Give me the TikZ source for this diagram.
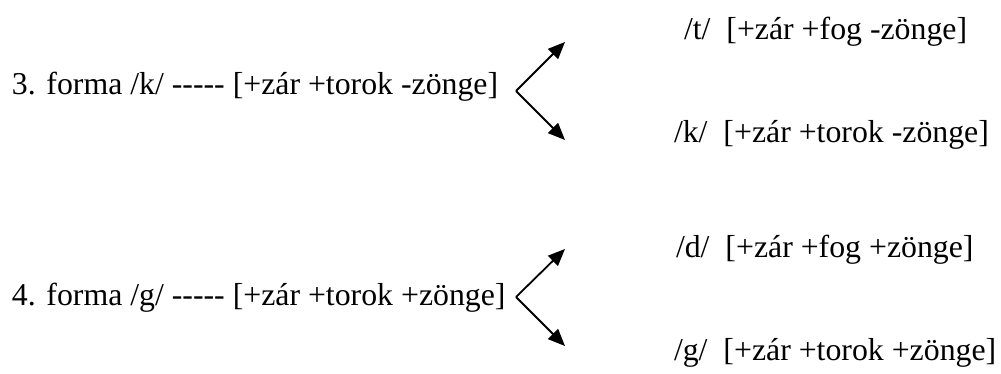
\documentclass[tikz,border=0pt]{standalone}
\usepackage{fontspec}
\setmainfont{Liberation Serif}[Ligatures=TeXOff]
\usetikzlibrary{arrows.meta}

\tikzset{
  form/.style={anchor=base west, inner sep=0pt, outer sep=0pt,
               font=\fontsize{31.8pt}{38pt}\selectfont},
  branch/.style={line width=1.8pt,
                 -{Triangle[length=17pt,width=14pt]}},
}
\newcommand{\gap}{\hspace{0.5em}}

\begin{document}
\begin{tikzpicture}[x=1pt, y=-1pt]
  \useasboundingbox (0,0) rectangle (1001,374);

  % 3. forma /k/
  \node[form] (k3) at (12,95) {3. forma /k/ ----- [+zár +torok -zönge]};
  \coordinate (v3) at (516,91);
  \coordinate (t3) at (565,42);
  \coordinate (b3) at (565,140);
  \draw[branch] (v3) -- (t3);
  \draw[branch] (v3) -- (b3);
  \node[form] (t) at (684,40) {/t/\gap[+zár +fog -zönge]};
  \node[form] (k) at (674,143) {/k/\gap[+zár +torok -zönge]};

  % 4. forma /g/
  \node[form] (g4) at (12,305) {4. forma /g/ ----- [+zár +torok +zönge]};
  \coordinate (v4) at (516,297);
  \coordinate (t4) at (565,249);
  \coordinate (b4) at (565,346);
  \draw[branch] (v4) -- (t4);
  \draw[branch] (v4) -- (b4);
  \node[form] (d) at (676,258) {/d/\gap[+zár +fog +zönge]};
  \node[form] (g) at (674,360) {/g/\gap[+zár +torok +zönge]};
\end{tikzpicture}
\end{document}
